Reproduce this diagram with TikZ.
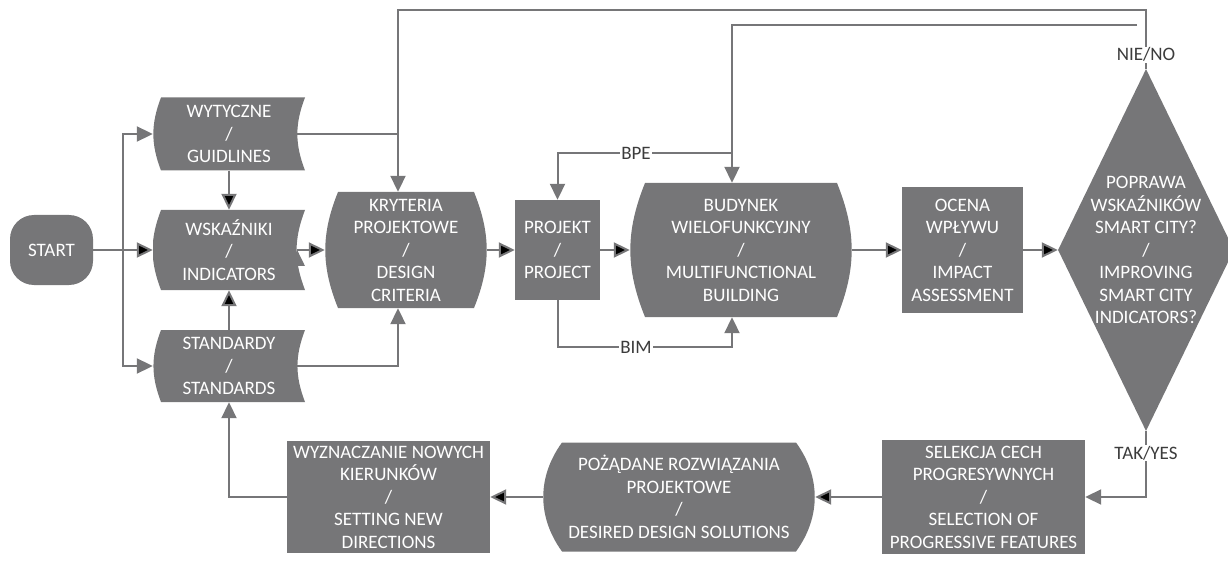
\documentclass[tikz,border=0pt]{standalone}
\usepackage{fontspec}
\setmainfont{Carlito}
\usetikzlibrary{arrows.meta,positioning,shapes.geometric}
\definecolor{flowgray}{RGB}{118,118,120}
\definecolor{taggray}{RGB}{60,60,60}

\begin{document}
\begin{tikzpicture}[x=1pt,y=-1pt,on grid,
    every node/.style={font=\fontsize{19}{22.5}\selectfont},
    shape base/.style={rectangle,text=white,align=center,inner sep=0pt},
    terminal/.style={shape base,fill=flowgray,rounded corners=24pt},
    process/.style={shape base,fill=flowgray},
    decision/.style={shape base,diamond,fill=flowgray},
    storage/.style={shape base,path picture={
        \fill[flowgray] ([xshift=8pt]path picture bounding box.north west)
          -- (path picture bounding box.north east)
          to[bend right=21] (path picture bounding box.south east)
          -- ([xshift=8pt]path picture bounding box.south west)
          to[bend left=21] ([xshift=8pt]path picture bounding box.north west);}},
    barrel/.style 2 args={shape base,path picture={
        \fill[flowgray] ([xshift=#1]path picture bounding box.north west)
          -- ([xshift=-#1]path picture bounding box.north east)
          to[bend left=#2] ([xshift=-#1]path picture bounding box.south east)
          -- ([xshift=#1]path picture bounding box.south west)
          to[bend left=#2] ([xshift=#1]path picture bounding box.north west);}},
    tag/.style={fill=white,text=taggray,inner sep=1pt},
    link/.style={draw=flowgray,line width=2pt},
    flow/.style={link,-{Triangle[length=16pt,width=15pt]}}]
  \useasboundingbox (0,0) rectangle (1228,561);

  \node[terminal, minimum width=83pt, minimum height=70pt] (start) at (51.5,250) {START};
  \node[storage, minimum width=152pt, minimum height=80pt] (wsk) [right=177.5pt of start] {WSKAŹNIKI\\/\\INDICATORS};
  \node[storage, minimum width=152pt, minimum height=73pt] (wyt) [above=116pt of wsk] {WYTYCZNE\\/\\GUIDLINES};
  \node[storage, minimum width=152pt, minimum height=72pt] (std) [below=116pt of wsk] {STANDARDY\\/\\STANDARDS};
  \node[barrel={13pt}{22}, minimum width=162pt, minimum height=116pt] (krit) [right=177pt of wsk] {KRYTERIA\\PROJEKTOWE\\/\\DESIGN\\CRITERIA};
  \node[process, minimum width=85pt, minimum height=100pt] (proj) [right=151.5pt of krit] {PROJEKT\\/\\PROJECT};
  \node[barrel={15pt}{22}, minimum width=222pt, minimum height=134pt] (bud) [right=183.5pt of proj] {BUDYNEK\\WIELOFUNKCYJNY\\/\\MULTIFUNCTIONAL\\BUILDING};
  \node[process, minimum width=121pt, minimum height=126pt] (ocena) [right=221.5pt of bud] {OCENA\\WPŁYWU\\/\\IMPACT\\ASSESSMENT};
  \node[decision, minimum width=176pt, minimum height=362pt] (dec) [right=183.5pt of ocena] {};
  \node[text=white, align=center] (dectext) at (dec) {POPRAWA\\WSKAŹNIKÓW\\SMART CITY?\\/\\IMPROVING\\SMART CITY\\INDICATORS?};
  \node[process, minimum width=203pt, minimum height=114pt] (sel) [below right=247pt and 21pt of ocena] {SELEKCJA CECH\\PROGRESYWNYCH\\/\\SELECTION OF\\PROGRESSIVE FEATURES};
  \node[barrel={19pt}{36}, minimum width=272pt, minimum height=109pt] (poz) [left=304.5pt of sel] {POŻĄDANE ROZWIĄZANIA\\PROJEKTOWE\\/\\DESIRED DESIGN SOLUTIONS};
  \node[process, minimum width=203pt, minimum height=112pt] (wyz) [left=290.5pt of poz] {WYZNACZANIE NOWYCH\\KIERUNKÓW\\/\\SETTING NEW\\DIRECTIONS};

  % helper points for the routed lines
  \coordinate (fork) at (123,250);
  \coordinate (kx) at (398,0);
  \coordinate (bx) at (732,0);
  \coordinate (top) at (1146,10);
  \coordinate (top2) at (1137,25);
  \coordinate (bpe) at (732,153);
  \coordinate (bimrow) at (0,347);

  \path[flow]
    (start) edge (wsk)
    (wyt) edge (wsk)
    (std) edge (wsk)
    ([xshift=-8pt]wsk.east) edge (krit)
    (krit) edge (proj)
    (proj) edge (bud)
    (bud) edge (ocena)
    (ocena) edge (dec)
    (sel) edge (poz)
    (poz) edge (wyz);

  \draw[flow] (fork) |- (wyt.west);
  \draw[flow] (fork) |- (std.west);
  \draw[link] ([xshift=-8pt]wyt.east) -- (wyt.east -| kx);
  \draw[flow] ([xshift=-8pt]std.east) -- (std.east -| kx) -- (krit.south -| kx);
  \draw[flow] (dec.north) -- node[tag,pos=0.24] {NIE/NO} (top) -- (top -| kx) -- (krit.north -| kx);
  \draw[flow] (top2) -- (top2 -| bx) -- (bud.north -| bx);
  \draw[flow] (bpe) -- node[tag,pos=0.55] {BPE} (bpe -| proj.north) -- (proj.north);
  \draw[flow] (proj.south) -- (proj.south |- bimrow) -- node[tag,pos=0.45] {BIM} (bimrow -| bx) -- (bud.south -| bx);
  \draw[flow] (dec.south) -- node[tag,pos=0.33] {TAK/YES} (dec.south |- sel.east) -- (sel.east);
  \draw[flow] (wyz.west) -| (std.south);
\end{tikzpicture}
\end{document}
